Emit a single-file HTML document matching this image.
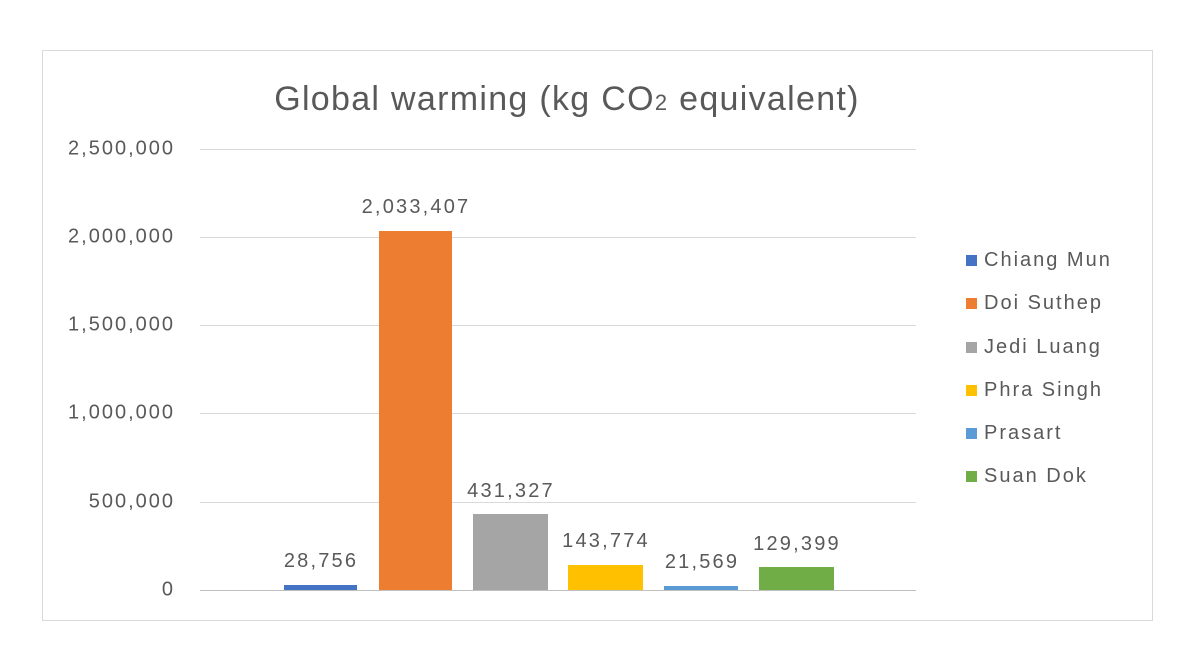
<!DOCTYPE html>
<html><head><style>
body{margin:0;background:#fff;width:1197px;height:668px;position:relative;font-family:"Liberation Sans",sans-serif;color:#595959;overflow:hidden}
.a{position:absolute}
.g{position:absolute;left:200px;width:716px;height:1px;background:#d9d9d9}
.t{position:absolute;right:1022px;font-size:20px;letter-spacing:2px;transform:translateY(-50%)}
.b{position:absolute}
.v{position:absolute;font-size:20px;letter-spacing:2.2px;text-align:center;width:160px}
.l{position:absolute;left:966px;font-size:20px;letter-spacing:2px;line-height:20px;white-space:nowrap}
.l i{display:inline-block;width:11px;height:11px;margin-right:7px;vertical-align:0px}
</style></head><body>
<div class="a" style="left:42px;top:50px;width:1109px;height:569px;border:1px solid #d9d9d9"></div>
<div class="a" style="left:200px;width:734px;top:80px;text-align:center;font-size:34px;letter-spacing:1.3px">Global warming (kg CO<span style="font-size:22px">2</span> equivalent)</div>
<div class="g" style="top:149px"></div><div class="g" style="top:237px"></div><div class="g" style="top:325px"></div><div class="g" style="top:413px"></div><div class="g" style="top:502px"></div><div class="g" style="top:590px;background:#bfbfbf"></div>
<div class="t" style="top:149px">2,500,000</div><div class="t" style="top:237px">2,000,000</div><div class="t" style="top:325px">1,500,000</div><div class="t" style="top:413px">1,000,000</div><div class="t" style="top:502px">500,000</div><div class="t" style="top:590px">0</div>
<div class="b" style="left:284px;width:73px;top:585px;height:5px;background:#4472c4"></div>
<div class="b" style="left:379px;width:73px;top:231px;height:359px;background:#ed7d31"></div>
<div class="b" style="left:473px;width:75px;top:514px;height:76px;background:#a5a5a5"></div>
<div class="b" style="left:568px;width:75px;top:565px;height:25px;background:#ffc000"></div>
<div class="b" style="left:664px;width:74px;top:586px;height:4px;background:#5b9bd5"></div>
<div class="b" style="left:759px;width:75px;top:567px;height:23px;background:#70ad47"></div>
<div class="v" style="left:241px;top:550px">28,756</div>
<div class="v" style="left:336px;top:196px">2,033,407</div>
<div class="v" style="left:431px;top:480px">431,327</div>
<div class="v" style="left:526px;top:530px">143,774</div>
<div class="v" style="left:622px;top:551px">21,569</div>
<div class="v" style="left:717px;top:533px">129,399</div>
<div class="l" style="top:250px"><i style="background:#4472c4"></i>Chiang Mun</div>
<div class="l" style="top:293px"><i style="background:#ed7d31"></i>Doi Suthep</div>
<div class="l" style="top:337px"><i style="background:#a5a5a5"></i>Jedi Luang</div>
<div class="l" style="top:380px"><i style="background:#ffc000"></i>Phra Singh</div>
<div class="l" style="top:423px"><i style="background:#5b9bd5"></i>Prasart</div>
<div class="l" style="top:466px"><i style="background:#70ad47"></i>Suan Dok</div>
</body></html>
